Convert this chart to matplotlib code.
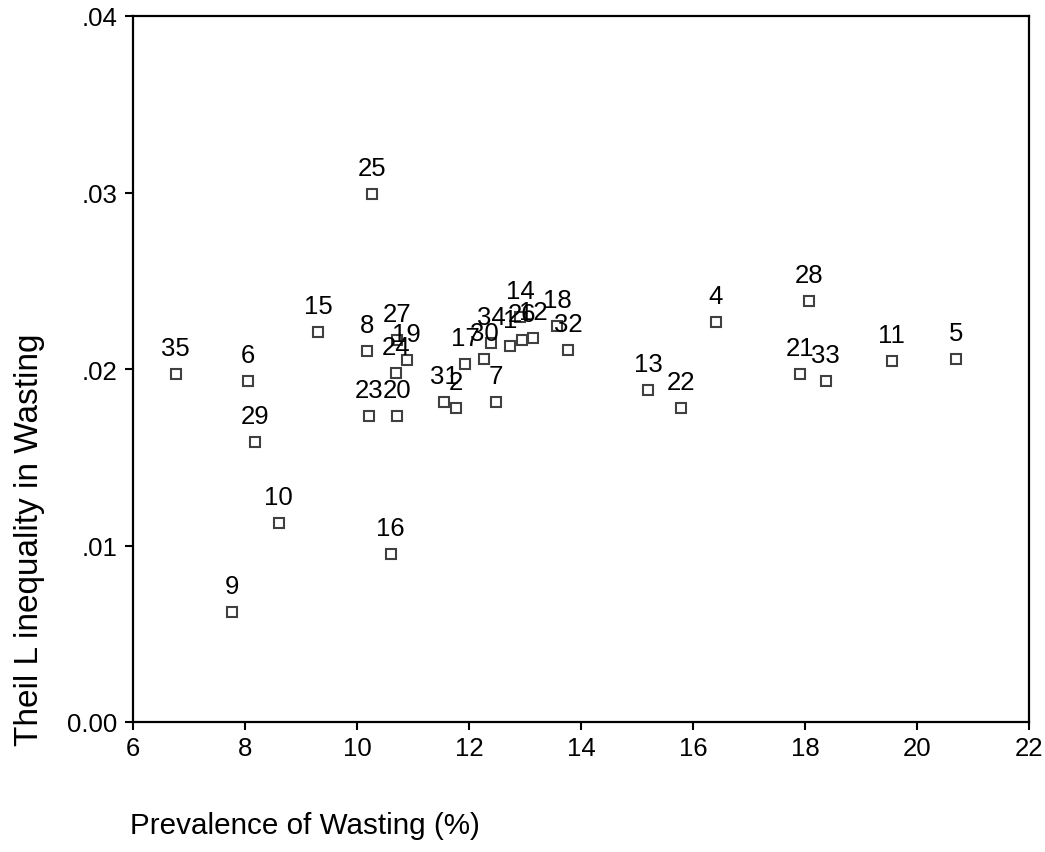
import matplotlib
matplotlib.use("Agg")
import matplotlib.pyplot as plt

plt.rcParams['font.family'] = ['Liberation Sans', 'DejaVu Sans']

labels = ['25', '15', '8', '35', '6', '29', '10', '16', '9', '23', '20', '24', '27', '19',
          '31', '2', '17', '30', '7', '34', '1', '26', '12', '14', '18', '32',
          '4', '28', '21', '33', '13', '22', '11', '5']
prevalence = [10.27, 9.31, 10.18, 6.76, 8.05, 8.18, 8.60, 10.60, 7.76, 10.22, 10.72, 10.69, 10.71, 10.89,
              11.56, 11.77, 11.93, 12.27, 12.48, 12.40, 12.73, 12.94, 13.14, 12.91, 13.57, 13.77,
              16.41, 18.08, 17.91, 18.37, 15.20, 15.78, 19.55, 20.70]
theil = [0.02993, 0.02211, 0.02104, 0.01972, 0.01934, 0.01588, 0.01126, 0.00952, 0.00621, 0.01736, 0.01736, 0.01975, 0.02164, 0.02050,
         0.01815, 0.01777, 0.02027, 0.02055, 0.01815, 0.02145, 0.02130, 0.02162, 0.02174, 0.02295, 0.02245, 0.02108,
         0.02265, 0.02383, 0.01973, 0.01934, 0.01881, 0.01777, 0.02044, 0.02057]

xticks = [6, 8, 10, 12, 14, 16, 18, 20, 22]
yticks = [0.0, 0.01, 0.02, 0.03, 0.04]
yticklabels = ['0.00', '.01', '.02', '.03', '.04']

fig = plt.figure(figsize=(10.45, 8.53), dpi=100)
ax = fig.add_axes([133/1045, 130/853, (1029-133)/1045, (723-17)/853])

ax.plot(prevalence, theil, linestyle='none', marker='s', markersize=7.5,
        markerfacecolor='white', markeredgecolor='#404040', markeredgewidth=1.5, zorder=2)

for lab, x, y in zip(labels, prevalence, theil):
    ax.annotate(lab, (x, y), xytext=(0, 13.7), textcoords='offset points',
                ha='center', va='baseline', fontsize=18.5, color='black', zorder=3)

ax.set_xlim(6, 22)
ax.set_ylim(0, 0.04)
ax.set_xticks(xticks)
ax.set_xticklabels([str(t) for t in xticks])
ax.set_yticks(yticks)
ax.set_yticklabels(yticklabels)
ax.tick_params(axis='both', direction='out', length=6, width=1.5, labelsize=18.5, colors='black')
ax.tick_params(axis='x', pad=4)
ax.tick_params(axis='y', pad=5)
for s in ax.spines.values():
    s.set_linewidth(1.6)
    s.set_color('black')

fig.text(130/1045, 1 - 826/853, 'Prevalence of Wasting (%)', fontsize=21.3,
         ha='left', va='center')
fig.text(30/1045, 1 - 540/853, 'Theil L inequality in Wasting', fontsize=24,
         ha='center', va='center', rotation=90)

fig.savefig('out.png', dpi=100)
